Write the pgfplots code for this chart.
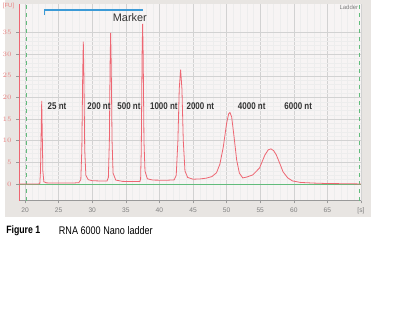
\documentclass[border=0pt]{standalone}
\usepackage{pgfplots}
\pgfplotsset{compat=1.18}
\usepackage{fontspec}
\setmainfont{Liberation Sans}
\newfontfamily\narrow[FakeStretch=0.82]{Liberation Sans}
\definecolor{panel}{HTML}{E8E5E2}
\definecolor{plotbg}{HTML}{F7F4F4}
\definecolor{trace}{HTML}{EE6672}
\definecolor{ylab}{HTML}{E88080}
\definecolor{gline}{HTML}{62BC7C}
\definecolor{mblue}{HTML}{3C9AD6}
\definecolor{txt}{HTML}{333333}
\begin{document}
\begin{tikzpicture}
\useasboundingbox (0,0) rectangle (300pt,240pt);
\fill[white] (0,0) rectangle (300pt,240pt);
\fill[panel] (3.75pt,77.25pt) rectangle (278.25pt,240pt);
\begin{axis}[
  at={(14.25pt,89.5pt)}, anchor=south west,
  scale only axis, width=256.5pt, height=147.5pt,
  xmin=19.1, xmax=70, ymin=-3.86, ymax=41.6,
  axis x line=bottom, axis y line=left,
  axis line style={-},
  x axis line style={gray!80, line width=0.5pt},
  y axis line style={trace, line width=0.6pt},
  xtick={20,25,...,70},
  xticklabels={20,25,30,35,40,45,50,55,60,65,{[s]}},
  ytick={0,5,...,35},
  minor x tick num=4, minor y tick num=4,
  minor tick length=0pt, major tick length=2pt,
  tick align=outside,
  tick style={gray!80, line width=0.4pt},
  grid=both,
  major grid style={gray!35, line width=0.35pt},
  minor grid style={gray!14, line width=0.3pt},
  axis background/.style={fill=plotbg},
  tick label style={font=\fontsize{5}{6}\selectfont},
  xticklabel style={text=gray},
  yticklabel style={text=ylab},
  clip mode=individual,
]
\addplot[gline, line width=0.6pt] coordinates {(19.1,0) (70,0)};
\addplot[gline, dashed, line width=0.6pt] coordinates {(20.25,-3.86) (20.25,41.6)};
\addplot[gline, dashed, line width=0.6pt] coordinates {(69.8,-3.86) (69.8,41.6)};
\addplot[trace, line width=0.6pt] coordinates {
(19.1,0.0) (20,0.0) (21,0.0) (22.0,0.0) (22.2,0.1) (22.3,3) (22.4,12) (22.48,19.2) (22.56,12) (22.65,3) (22.8,0.5) (23.2,0.25) (25,0.2) (27,0.2) (28.0,0.3) (28.3,1.0) (28.45,8) (28.58,25) (28.67,32.9) (28.76,25) (28.88,8) (29.05,2) (29.4,1.0) (30,0.75) (31,0.7) (32.2,0.7) (32.4,1.5) (32.55,10) (32.66,28) (32.74,34.9) (32.82,28) (32.95,10) (33.1,2.5) (33.5,0.9) (34.5,0.6) (36,0.55) (37.1,0.6) (37.2,1.2) (37.3,8) (37.42,30) (37.5,37) (37.58,30) (37.7,10) (37.85,3) (38.2,1.2) (39,0.9) (41,0.85) (42.2,0.95) (42.5,2) (42.75,10) (42.95,22) (43.15,26.4) (43.35,22) (43.55,10) (43.8,3) (44.2,1.5) (45,1.1) (46,1.15) (47,1.35) (47.8,1.7) (48.5,2.6) (49.0,4.6) (49.5,8.5) (50.0,14.0) (50.3,16.2) (50.5,16.5) (50.75,15.5) (51.1,11) (51.5,5.5) (51.9,2.5) (52.4,1.4) (53.0,1.6) (53.9,2.1) (54.9,3.7) (55.7,6.7) (56.2,7.9) (56.6,8.1) (57.0,7.7) (57.4,6.7) (57.9,4.8) (58.4,2.8) (59.1,1.4) (59.8,0.7) (61,0.35) (63,0.2) (65,0.1) (68,0.05) (70,0.0)
};
\draw[mblue, line width=1.2pt] (axis cs:22.87,39.0) -- (axis cs:22.87,40.2) -- (axis cs:37.59,40.2);
\node[text=txt, font=\fontsize{8.2}{9}\selectfont] at (axis cs:35.6,38.4) {Marker};
\begin{scope}[every node/.style={text=txt, font=\narrow\bfseries\fontsize{7.3}{8}\selectfont}]
\node at (axis cs:24.76,18.0) {25 nt};
\node at (axis cs:31.0,18.0) {200 nt};
\node at (axis cs:35.46,18.0) {500 nt};
\node at (axis cs:40.66,18.0) {1000 nt};
\node at (axis cs:46.09,18.0) {2000 nt};
\node at (axis cs:53.74,18.0) {4000 nt};
\node at (axis cs:60.66,18.0) {6000 nt};
\end{scope}
\node[text=gray, font=\fontsize{4.5}{5}\selectfont] at (axis cs:68.2,40.9) {Ladder};
\end{axis}
\node[text=ylab, font=\fontsize{4.5}{5}\selectfont] at (6.4pt,235.7pt) {[FU]};
\node[anchor=west, text=black, font=\narrow\bfseries\fontsize{8}{9}\selectfont, inner sep=0pt] at (4.5pt,66.75pt) {Figure 1};
\node[anchor=west, text=black, font=\narrow\fontsize{8.3}{9}\selectfont, inner sep=0pt] at (44pt,66.75pt) {RNA 6000 Nano ladder};
\end{tikzpicture}
\end{document}
